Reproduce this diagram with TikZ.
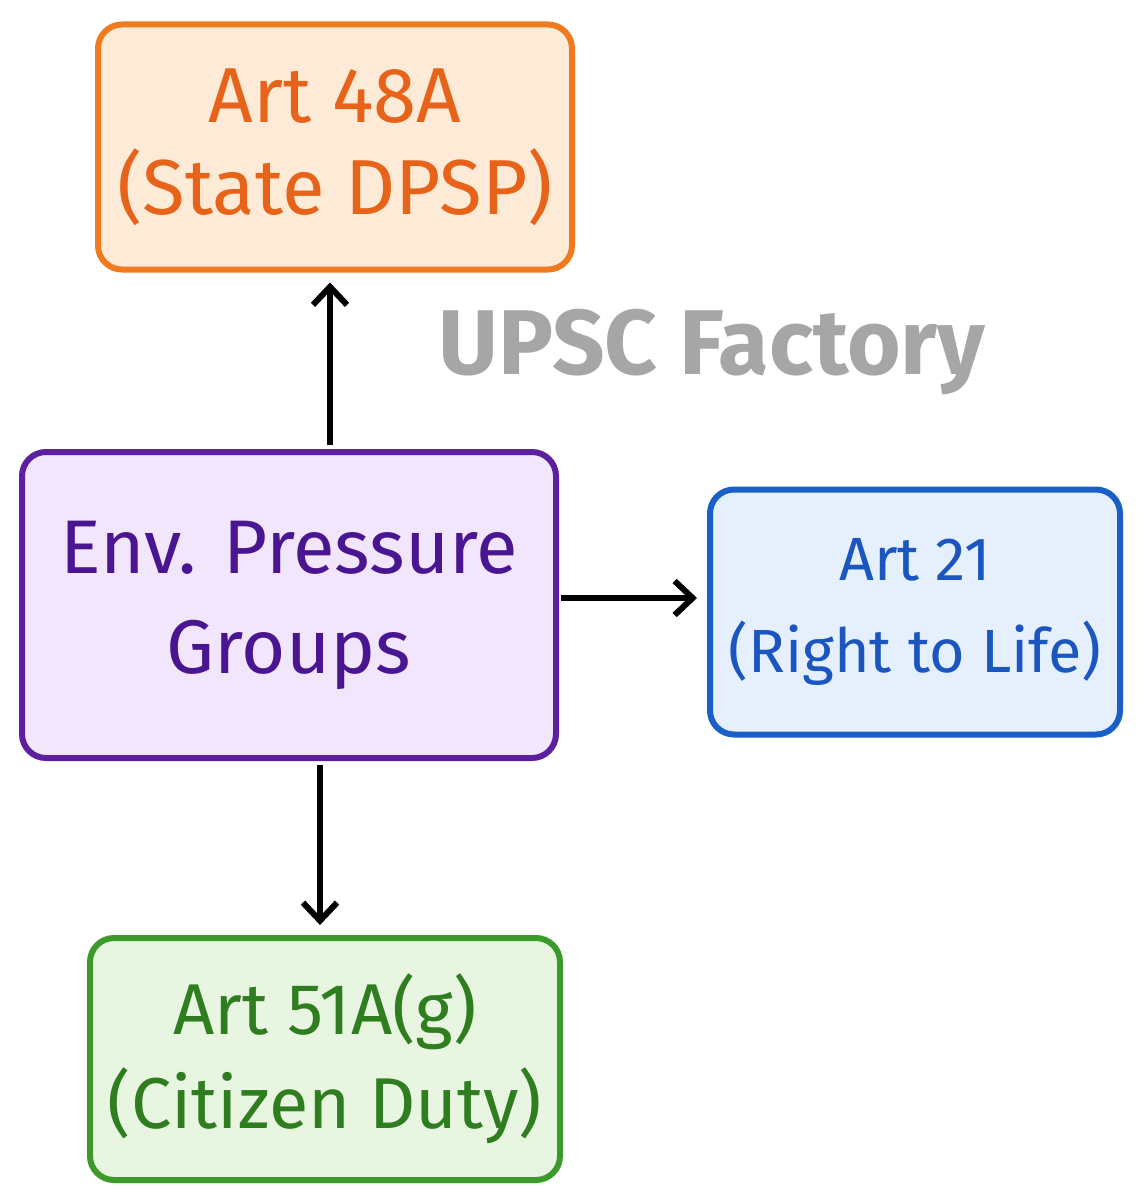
\documentclass[tikz,border=0pt]{standalone}
\usepackage{fontspec}
\setmainfont{Fira Sans}
\usetikzlibrary{arrows.meta}
\begin{document}
\begin{tikzpicture}[x=1pt,y=-1pt,
box/.style={draw, line width=6pt, rounded corners=24pt, align=center, inner sep=0pt, font=\fontsize{78}{92}\selectfont},
arr/.style={line width=6pt, -{Straight Barb[length=18pt,width=34pt,line width=6pt]}}]
\definecolor{oB}{HTML}{F07A1E}\definecolor{oF}{HTML}{FDEBD8}\definecolor{oT}{HTML}{E8631A}
\definecolor{pB}{HTML}{5B1FA0}\definecolor{pF}{HTML}{F1E6FB}\definecolor{pT}{HTML}{4A1590}
\definecolor{bB}{HTML}{1A5FC8}\definecolor{bF}{HTML}{E6F0FC}\definecolor{bT}{HTML}{1A55C0}
\definecolor{gB}{HTML}{3C9A2A}\definecolor{gF}{HTML}{E7F5E1}\definecolor{gT}{HTML}{2E7D1E}
\useasboundingbox (0,0) rectangle (1144,1204);
\fill[white] (0,0) rectangle (1144,1204);
\node[box, draw=oB, fill=oF, text=oT, minimum width=474pt, minimum height=245pt] (o) at (335,147) {Art 48A\\(State DPSP)};
\node[box, draw=pB, fill=pF, text=pT, minimum width=534pt, minimum height=306pt, font=\fontsize{76}{100}\selectfont] (p) at (289,605) {Env. Pressure\\Groups};
\node[box, draw=bB, fill=bF, text=bT, minimum width=410pt, minimum height=245pt, font=\fontsize{61}{92}\selectfont] (b) at (915,612) {Art 21\\(Right to Life)};
\node[box, draw=gB, fill=gF, text=gT, minimum width=470pt, minimum height=242pt, font=\fontsize{72}{94}\selectfont] (g) at (325,1059) {Art 51A(g)\\(Citizen Duty)};
\node[text=gray!70, font=\bfseries\fontsize{92}{100}\selectfont] (w) at (712,352) {UPSC Factory};
\draw[arr] (p.north -| 330,0) ++(0,-4) -- ([yshift=-10pt]o.south -| 330,0);
\draw[arr] (p.east |- 0,598) ++(2,0) -- ([xshift=-10pt]b.west |- 0,598);
\draw[arr] (p.south -| 320,0) ++(0,4) -- ([yshift=10pt]g.north -| 320,0);
\end{tikzpicture}
\end{document}
